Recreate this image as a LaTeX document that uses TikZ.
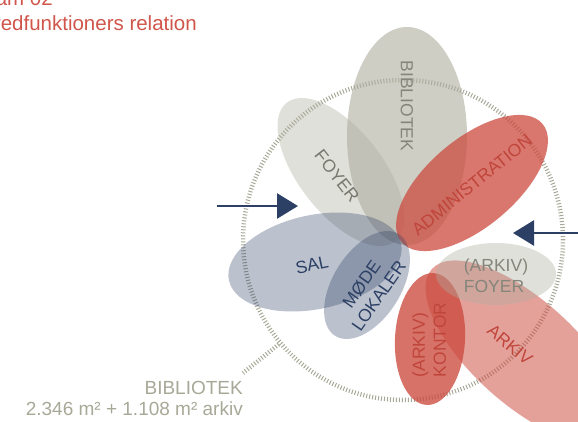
\documentclass[tikz,border=0pt]{standalone}
\usepackage{fontspec}
\setmainfont{Liberation Sans}
\usetikzlibrary{shapes.geometric,arrows.meta}
\definecolor{navy}{HTML}{2C3F64}
\definecolor{redc}{HTML}{CC4A3E}
\definecolor{redtxt}{HTML}{C0453B}
\definecolor{grayc}{HTML}{ADAD9F}
\definecolor{graytxt}{HTML}{85857B}
\definecolor{ringc}{HTML}{A8A898}
\definecolor{titlec}{HTML}{D0554A}
\tikzset{
  petal/.style={ellipse, inner sep=0pt},
  lbl/.style={font=\fontsize{17.5}{21}\selectfont, inner sep=0pt},
  entry/.style={draw=navy, line width=2.6pt, -{Triangle[length=21pt,width=25pt]}},
}
\begin{document}
\begin{tikzpicture}[x=1pt,y=-1pt]
\useasboundingbox (0,0) rectangle (578,421);
\clip (0,0) rectangle (578,421);
% ring
\node[circle, draw=ringc, line width=4.5pt, dash pattern=on 1pt off 2pt, minimum size=320pt, inner sep=0pt] (ring) at (403,240) {};
\coordinate (leadend) at (243,373);
\draw[ringc, line width=4.5pt, dash pattern=on 1pt off 2pt] (ring.220) -- (leadend);
% petals
\node[petal, fill=grayc, fill opacity=0.6, minimum width=120pt, minimum height=218pt] (bib) at (407,136) {};
\node[petal, fill=grayc, fill opacity=0.38, minimum width=176pt, minimum height=84pt, rotate=-52] (foy) at (341,172) {};
\node[petal, fill=redc, fill opacity=0.75, minimum width=184pt, minimum height=88pt, rotate=40] (adm) at (472,183) {};
\node[petal, fill=navy, fill opacity=0.32, minimum width=176pt, minimum height=94pt, rotate=12] (sal) at (315,262) {};
\node[petal, fill=navy, fill opacity=0.32, minimum width=120pt, minimum height=68pt, rotate=58] (mod) at (367,285) {};
\node[petal, fill=redc, fill opacity=0.52, minimum width=248pt, minimum height=104pt, rotate=-42] (ark) at (524,352) {};
\node[petal, fill=redc, fill opacity=0.78, minimum width=70pt, minimum height=132pt, rotate=-3] (kon) at (430,339) {};
\node[petal, fill=grayc, fill opacity=0.38, minimum width=120pt, minimum height=62pt] (afoy) at (496,274) {};
% labels
\node[lbl, text=graytxt, rotate=-90] (tbib) at (407,106) {BIBLIOTEK};
\node[lbl, text=graytxt!90!black, rotate=-52] (tfoy) at (337,176) {FOYER};
\node[lbl, text=redtxt, rotate=39] (tadm) at (472,185) {ADMINISTRATION};
\node[lbl, text=navy, rotate=12] (tsal) at (312,265) {SAL};
\node[lbl, text=navy, rotate=55, align=center] (tmod) at (370,290) {MØDE\\LOKALER};
\node[lbl, text=graytxt, align=left] (tafoy) at (496,276) {(ARKIV)\\FOYER};
\node[lbl, text=redtxt, rotate=90, align=left] (tkon) at (429,340) {(ARKIV)\\KONTOR};
\node[lbl, text=redtxt, rotate=-40] (tark) at (510,345) {ARKIV};
% arrows
\coordinate (la) at (217,206);
\coordinate (lt) at (298,206);
\coordinate (ra) at (590,233);
\coordinate (rt) at (513,233);
\draw[entry] (la) -- (lt);
\draw[entry] (ra) -- (rt);
% bottom label
\node[font=\fontsize{19}{21}\selectfont, text=ringc, anchor=base east, inner sep=0pt] (blbl) at (243,394) {BIBLIOTEK};
\node[font=\fontsize{19}{21}\selectfont, text=ringc, anchor=base east, inner sep=0pt] (barea) at (243,415) {2.346 m² + 1.108 m² arkiv};
% title
\node[font=\fontsize{20.5}{25}\selectfont, text=titlec, anchor=base east, inner sep=0pt] (t1) at (53,5) {Diagram 02};
\node[font=\fontsize{20.5}{25}\selectfont, text=titlec, anchor=base east, inner sep=0pt] (t2) at (197,30) {Hovedfunktioners relation};
\end{tikzpicture}
\end{document}
